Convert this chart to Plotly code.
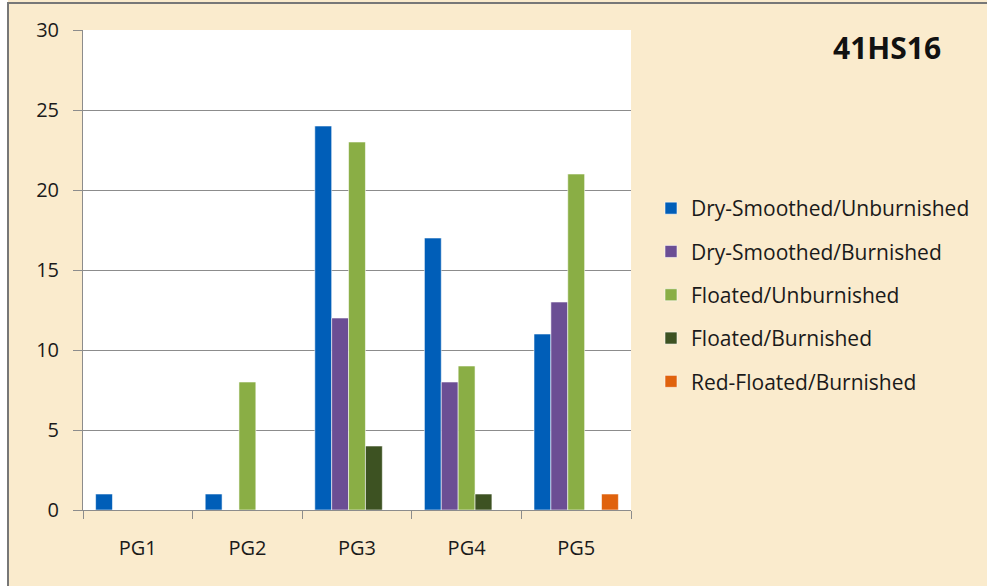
import plotly.graph_objects as go

categories = ["PG1", "PG2", "PG3", "PG4", "PG5"]
dry_smoothed_unburnished = [1, 1, 24, 17, 11]
dry_smoothed_burnished = [0, 0, 12, 8, 13]
floated_unburnished = [0, 8, 23, 9, 21]
floated_burnished = [0, 0, 4, 1, 0]
red_floated_burnished = [0, 0, 0, 0, 1]

series = [
    ("Dry-Smoothed/Unburnished", dry_smoothed_unburnished, "#005EB8"),
    ("Dry-Smoothed/Burnished", dry_smoothed_burnished, "#6B4E94"),
    ("Floated/Unburnished", floated_unburnished, "#8AAE45"),
    ("Floated/Burnished", floated_burnished, "#3D5222"),
    ("Red-Floated/Burnished", red_floated_burnished, "#E0620D"),
]

FONT = "Open Sans"
bg = "#FAEBCD"

fig = go.Figure()
for i, (name, vals, color) in enumerate(series):
    fig.add_trace(go.Bar(
        x=categories, y=vals, name=name, legendgroup=str(i),
        marker=dict(color=color, line=dict(color="rgba(255,255,255,0.7)", width=0.8)),
    ))

# plot area: x 83..631, y 30..510 in pixels
W, H = 987, 586
L, R, T, B = 83, 356, 30, 76
pw, ph = W - L - R, H - T - B

def px(x):
    return (x - L) / pw

def py(y):
    return (H - B - y) / ph

# white margin outside the cropped frame, then the frame's top and left edges
frame = [
    dict(type="rect", xref="paper", yref="paper", x0=px(0), x1=px(W), y0=py(0), y1=py(-20),
         line=dict(width=0), fillcolor="white", layer="below"),
    dict(type="rect", xref="paper", yref="paper", x0=px(-20), x1=px(8), y0=py(H), y1=py(0),
         line=dict(width=0), fillcolor="white", layer="below"),
    dict(type="rect", xref="paper", yref="paper", x0=px(8), x1=px(W + 20), y0=py(H + 20), y1=py(3),
         line=dict(color="#777777", width=2), fillcolor="rgba(0,0,0,0)", layer="below"),
]

fig.update_layout(
    width=W, height=H,
    margin=dict(l=L, r=R, t=T, b=B),
    paper_bgcolor=bg, plot_bgcolor="white",
    barmode="group", bargap=0.23, bargroupgap=0,
    font=dict(family=FONT, size=20, color="#1a1a1a"),
    legend=dict(
        x=px(651), y=py(188), xanchor="left", yanchor="top",
        bgcolor="rgba(0,0,0,0)", font=dict(size=21, family=FONT),
        tracegroupgap=13, itemwidth=30,
    ),
    xaxis=dict(
        showline=True, linecolor="#8c8c8c", linewidth=1,
        ticks="outside", tickson="boundaries", ticklen=8, tickcolor="#8c8c8c",
        ticklabelstandoff=20, showgrid=False,
    ),
    yaxis=dict(
        range=[0, 30], dtick=5, showline=True, linecolor="#8c8c8c", linewidth=1,
        showgrid=True, gridcolor="#8c8c8c", gridwidth=1,
        ticks="outside", ticklen=9, tickcolor="#8c8c8c", ticklabelstandoff=10,
        zeroline=False,
    ),
    shapes=frame,
    annotations=[dict(
        text="<b>41HS16</b>", xref="paper", yref="paper",
        x=px(887), y=py(48), xanchor="center", yanchor="middle",
        showarrow=False, font=dict(size=30, family=FONT, color="#111111"),
    )],
)

fig.write_html(
    "out.html",
    config={"displayModeBar": False},
    post_script="document.body.style.margin='0';",
)
